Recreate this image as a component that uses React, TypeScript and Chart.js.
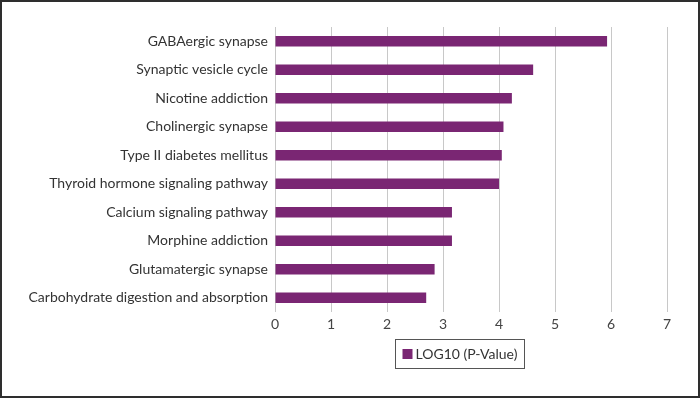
import React, { useEffect, useRef } from "react";
import { Chart, registerables } from "chart.js";

Chart.register(...registerables);

const categories = [
  "GABAergic synapse",
  "Synaptic vesicle cycle",
  "Nicotine addiction",
  "Cholinergic synapse",
  "Type II diabetes mellitus",
  "Thyroid hormone signaling pathway",
  "Calcium signaling pathway",
  "Morphine addiction",
  "Glutamatergic synapse",
  "Carbohydrate digestion and absorption",
];
const logPValues = [5.93, 4.61, 4.23, 4.08, 4.05, 4.0, 3.16, 3.16, 2.85, 2.7];
const seriesLabel = "LOG10 (P-Value)";
const xTicks = [0, 1, 2, 3, 4, 5, 6, 7];

const FONT = "Lato, 'Open Sans', sans-serif";
const BAR = "#7a2673";

const boxLegend = {
  id: "boxLegend",
  afterDraw(chart: any) {
    const ctx = chart.ctx;
    const ds = chart.data.datasets[0];
    ctx.save();
    ctx.font = `14px ${FONT}`;
    const tw = ctx.measureText(ds.label).width;
    const pad = 7;
    const sq = 10;
    const gap = 3;
    const w = pad + sq + gap + tw + pad;
    const h = 29;
    const cx = 459;
    const top = 339;
    const left = Math.round(cx - w / 2) + 0.5;
    ctx.strokeStyle = "#555";
    ctx.lineWidth = 1;
    ctx.strokeRect(left, top + 0.5, Math.round(w), h);
    ctx.fillStyle = ds.backgroundColor;
    ctx.fillRect(left + pad, top + 10, sq, sq);
    ctx.fillStyle = "#333";
    ctx.textBaseline = "middle";
    ctx.textAlign = "left";
    ctx.fillText(ds.label, left + pad + sq + gap, top + h / 2 + 1);
    ctx.restore();
  },
};

export default function App() {
  const ref = useRef<HTMLCanvasElement | null>(null);
  useEffect(() => {
    if (!ref.current) return;
    const chart = new Chart(ref.current, {
      type: "bar",
      data: {
        labels: categories,
        datasets: [
          {
            label: seriesLabel,
            data: logPValues,
            backgroundColor: BAR,
            borderWidth: 0,
            barPercentage: 0.36,
            categoryPercentage: 1,
          },
        ],
      },
      plugins: [boxLegend],
      options: {
        indexAxis: "y",
        responsive: false,
        animation: false,
        devicePixelRatio: 1,
        layout: { padding: { left: 0, right: 33, top: 27, bottom: 0 } },
        plugins: {
          legend: { display: false },
          tooltip: { enabled: false },
        },
        scales: {
          x: {
            min: 0,
            max: 7,
            afterBuildTicks: (s: any) => {
              s.ticks = xTicks.map((v) => ({ value: v }));
            },
            afterFit: (s: any) => {
              s.height = 86;
            },
            grid: { color: "#c8c8c8", lineWidth: 1, drawTicks: false },
            border: { display: false },
            ticks: {
              padding: 4,
              color: "#444",
              font: { family: FONT, size: 14 },
            },
          },
          y: {
            afterFit: (s: any) => {
              s.width = 275;
            },
            grid: { display: false, drawTicks: false },
            border: { display: false },
            ticks: {
              padding: 7,
              color: "#333",
              font: { family: FONT, size: 14 },
            },
          },
        },
      },
    });
    return () => chart.destroy();
  }, []);
  return (
    <div
      style={{
        position: "absolute",
        left: 0,
        top: 0,
        width: 700,
        height: 398,
        background: "#fff",
      }}
    >
      <canvas ref={ref} width={700} height={398} style={{ display: "block" }} />
      <div
        style={{
          position: "absolute",
          left: 0,
          top: 0,
          width: 700,
          height: 398,
          border: "2px solid #2e2e2e",
          boxSizing: "border-box",
          pointerEvents: "none",
        }}
      />
    </div>
  );
}
